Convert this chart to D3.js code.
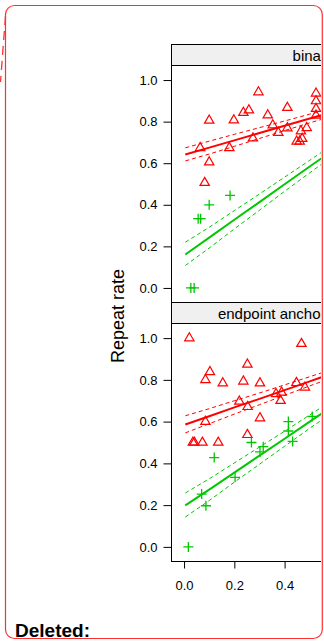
<!DOCTYPE html>
<html>
<head>
<meta charset="utf-8">
<script src="https://cdn.jsdelivr.net/npm/d3@7"></script>
<style>
  html, body { margin: 0; padding: 0; background: #fff; }
  svg { display: block; }
  text { font-family: "Liberation Sans", Arial, Helvetica, sans-serif; }
</style>
</head>
<body>
<svg id="chart" width="324" height="641"></svg>
<script>
// Panel titles (strip labels), top to bottom
const panelTitles = ["binary", "endpoint anchored response"];

// Axis ticks
const yTicks = [0, 0.2, 0.4, 0.6, 0.8, 1.0];
const xTicks = [0, 0.2, 0.4, 0.6, 0.8, 1.0];

// Observed repeat rates, panel 1 ("binary")
const binTriX = [0.064, 0.100, 0.100, 0.082, 0.180, 0.198, 0.236, 0.258, 0.296, 0.274, 0.333, 0.353,
                 0.375, 0.411, 0.411, 0.448, 0.460, 0.470, 0.465, 0.488, 0.525, 0.525, 0.525, 0.525];
const binTriY = [0.674, 0.806, 0.605, 0.506, 0.674, 0.807, 0.843, 0.855, 0.942, 0.720, 0.831, 0.783,
                 0.747, 0.867, 0.769, 0.705, 0.705, 0.718, 0.754, 0.770, 0.936, 0.899, 0.862, 0.830];
const binCrossX = [0.027, 0.040, 0.056, 0.066, 0.100, 0.183];
const binCrossY = [0.000, 0.000, 0.333, 0.333, 0.400, 0.445];

// Observed repeat rates, panel 2 ("endpoint anchored")
const endTriX = [0.021, 0.085, 0.103, 0.085, 0.035, 0.041, 0.073, 0.136, 0.154, 0.236, 0.252,
                 0.220, 0.253, 0.252, 0.302, 0.302, 0.366, 0.388, 0.384, 0.447, 0.467, 0.481];
const endTriY = [1.000, 0.800, 0.838, 0.600, 0.500, 0.500, 0.500, 0.500, 0.784, 0.793, 0.874,
                 0.697, 0.671, 0.537, 0.784, 0.617, 0.733, 0.740, 0.700, 0.786, 0.973, 0.764];
const endCrossX = [0.017, 0.070, 0.087, 0.120, 0.203, 0.268, 0.302, 0.315, 0.415, 0.415, 0.432, 0.510];
const endCrossY = [0.000, 0.253, 0.197, 0.428, 0.333, 0.500, 0.455, 0.480, 0.600, 0.555, 0.505, 0.625];

// Fitted regression lines with 95% confidence bands, sampled along x
const fitX = [0.005, 0.1, 0.2, 0.3, 0.4, 0.5, 0.6];
const binTriFit   = [0.642, 0.675, 0.710, 0.745, 0.780, 0.815, 0.849];
const binTriLo    = [0.611, 0.644, 0.681, 0.719, 0.757, 0.794, 0.830];
const binTriHi    = [0.674, 0.706, 0.739, 0.771, 0.803, 0.836, 0.868];
const binCrossFit = [0.161, 0.242, 0.328, 0.413, 0.499, 0.584, 0.669];
const binCrossLo  = [0.108, 0.192, 0.284, 0.374, 0.465, 0.554, 0.642];
const binCrossHi  = [0.220, 0.292, 0.372, 0.452, 0.533, 0.614, 0.696];
const endTriFit   = [0.586, 0.626, 0.668, 0.709, 0.751, 0.793, 0.835];
const endTriLo    = [0.546, 0.590, 0.636, 0.681, 0.726, 0.771, 0.815];
const endTriHi    = [0.628, 0.662, 0.700, 0.737, 0.776, 0.815, 0.855];
const endCrossFit = [0.199, 0.274, 0.356, 0.437, 0.518, 0.600, 0.681];
const endCrossLo  = [0.143, 0.222, 0.310, 0.396, 0.482, 0.568, 0.652];
const endCrossHi  = [0.258, 0.326, 0.402, 0.478, 0.554, 0.632, 0.710];

const RED = "#ff0000";
const GREEN = "#00c800";

const zip = (xs, ys) => xs.map((x, i) => ({ x, y: ys[i] }));

const panels = [
  {
    title: panelTitles[0],
    tri: zip(binTriX, binTriY), cross: zip(binCrossX, binCrossY),
    fits: [
      { color: RED, fit: binTriFit, lo: binTriLo, hi: binTriHi },
      { color: GREEN, fit: binCrossFit, lo: binCrossLo, hi: binCrossHi }
    ]
  },
  {
    title: panelTitles[1],
    tri: zip(endTriX, endTriY), cross: zip(endCrossX, endCrossY),
    fits: [
      { color: RED, fit: endTriFit, lo: endTriLo, hi: endTriHi },
      { color: GREEN, fit: endCrossFit, lo: endCrossLo, hi: endCrossHi }
    ]
  }
];

// Layout
const panelLeft = 172, panelWidth = 282;
const stripH = 21;
const panelTops = [44.5, 302.5];
const panelHeights = [237, 238];

const svg = d3.select("#chart");

// Outer rounded frame
svg.append("rect")
  .attr("x", 5.5).attr("y", 5.5)
  .attr("width", 316.8).attr("height", 633)
  .attr("rx", 9).attr("ry", 9)
  .attr("fill", "none")
  .attr("stroke", "#ff3030")
  .attr("stroke-width", 1.2);

// Dashed connector leaving the frame on the left
svg.append("path")
  .attr("d", "M5.5,16 L0.5,82")
  .attr("fill", "none")
  .attr("stroke", "#ff3030")
  .attr("stroke-width", 1.3)
  .attr("stroke-dasharray", "9,6");

svg.append("defs").append("clipPath").attr("id", "frameClip")
  .append("rect").attr("x", 0).attr("y", 0).attr("width", 321).attr("height", 641);

const g = svg.append("g").attr("clip-path", "url(#frameClip)");

const x = d3.scaleLinear().domain([-0.048, 1.074]).range([panelLeft, panelLeft + panelWidth]);

const triPath = d3.symbol(d3.symbolTriangle, 38)();
const crossPath = "M-5,0H5M0,-5V5";

panels.forEach((p, i) => {
  const top = panelTops[i];
  const pTop = top + stripH;
  const pBottom = pTop + panelHeights[i];
  const y = d3.scaleLinear().domain([-0.07, 1.07]).range([pBottom, pTop]);

  // Strip
  g.append("rect")
    .attr("x", panelLeft - 0.5).attr("y", top)
    .attr("width", panelWidth).attr("height", stripH)
    .attr("fill", "#f0f0f0").attr("stroke", "#000").attr("stroke-width", 1);
  g.append("text")
    .attr("x", panelLeft + panelWidth / 2).attr("y", top + stripH / 2 + 0.5)
    .attr("text-anchor", "middle").attr("dominant-baseline", "central")
    .attr("font-size", 15).attr("fill", "#000")
    .text(p.title);

  // Panel frame
  g.append("rect")
    .attr("x", panelLeft - 0.5).attr("y", pTop)
    .attr("width", panelWidth).attr("height", panelHeights[i])
    .attr("fill", "none").attr("stroke", "#000").attr("stroke-width", 1);

  // Y axis
  const yAxis = d3.axisLeft(y).tickValues(yTicks).tickFormat(d3.format(".1f"))
    .tickSize(8).tickPadding(6);
  const ya = g.append("g").attr("transform", `translate(${panelLeft - 0.5},0)`).call(yAxis);
  ya.select(".domain").remove();
  ya.selectAll("line").attr("stroke", "#000");
  ya.selectAll("text").attr("font-size", 13).attr("fill", "#000")
    .attr("font-family", '"Liberation Sans", Arial, sans-serif');

  // X axis on the bottom panel
  if (i === panels.length - 1) {
    const xAxis = d3.axisBottom(x).tickValues(xTicks).tickFormat(d3.format(".1f"))
      .tickSize(7).tickPadding(12);
    const xa = g.append("g").attr("transform", `translate(0,${pBottom})`).call(xAxis);
    xa.select(".domain").remove();
    xa.selectAll("line").attr("stroke", "#000");
    xa.selectAll("text").attr("font-size", 13).attr("fill", "#000")
      .attr("font-family", '"Liberation Sans", Arial, sans-serif');
  }

  const inner = g.append("g");

  // Fit lines and confidence bands
  p.fits.forEach(f => {
    const line = arr => d3.line().x((d, k) => x(fitX[k])).y(d => y(d))(arr);
    inner.append("path").attr("d", line(f.lo)).attr("fill", "none")
      .attr("stroke", f.color).attr("stroke-width", 1).attr("stroke-dasharray", "4,3");
    inner.append("path").attr("d", line(f.hi)).attr("fill", "none")
      .attr("stroke", f.color).attr("stroke-width", 1).attr("stroke-dasharray", "4,3");
    inner.append("path").attr("d", line(f.fit)).attr("fill", "none")
      .attr("stroke", f.color).attr("stroke-width", 2);
  });

  // Points
  inner.selectAll(".tri").data(p.tri).join("path")
    .attr("d", triPath)
    .attr("transform", d => `translate(${x(d.x)},${y(d.y)})`)
    .attr("fill", "none").attr("stroke", RED).attr("stroke-width", 1.2);
  inner.selectAll(".cross").data(p.cross).join("path")
    .attr("d", crossPath)
    .attr("transform", d => `translate(${x(d.x)},${y(d.y)})`)
    .attr("fill", "none").attr("stroke", GREEN).attr("stroke-width", 1.3);
});

// Shared y-axis title
g.append("text")
  .attr("transform", "translate(118,316) rotate(-90)")
  .attr("text-anchor", "middle").attr("dominant-baseline", "central")
  .attr("font-size", 18).attr("fill", "#000")
  .text("Repeat rate");

// Label below the frame contents
svg.append("text")
  .attr("x", 15).attr("y", 637)
  .attr("font-size", 19).attr("font-weight", "bold").attr("fill", "#000")
  .text("Deleted:");
</script>
</body>
</html>
